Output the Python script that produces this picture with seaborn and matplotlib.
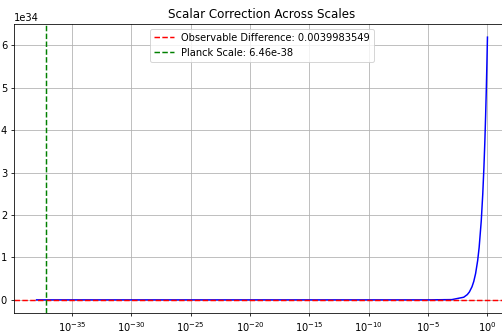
import matplotlib
matplotlib.use("Agg")
import matplotlib.pyplot as plt
from matplotlib.ticker import NullLocator
import seaborn as sns
import pandas as pd

# Scale (x) and scalar correction (y) along the curve
scale = [1e-38, 1e-35, 1e-30, 1e-25, 1e-20, 1e-15, 1e-10, 1e-5, 1e-3,
         1e-2, 0.02, 0.03, 0.05, 0.07, 0.1, 0.15, 0.2, 0.3, 0.4, 0.5,
         0.6, 0.7, 0.8, 0.9, 1.0]
correction = [6.2e-4, 0.62, 6.2e4, 6.2e9, 6.2e14, 6.2e19, 6.2e24, 6.2e29, 6.2e31,
              6.2e32, 1.24e33, 1.86e33, 3.1e33, 4.33e33, 6.19e33, 9.28e33, 1.24e34, 1.86e34, 2.48e34, 3.1e34,
              3.71e34, 4.33e34, 4.95e34, 5.57e34, 6.19e34]

observable_difference = 0.0039983549
planck_scale = 6.46e-38
xticks = [1e-35, 1e-30, 1e-25, 1e-20, 1e-15, 1e-10, 1e-5, 1e0]

df = pd.DataFrame({"scale": scale, "correction": correction})

DPI = 71
fig = plt.figure(figsize=(502 / DPI, 332 / DPI), dpi=DPI)
ax = fig.add_axes([14 / 502, 1 - 313 / 332, 496 / 502, 289 / 332])

sns.lineplot(data=df, x="scale", y="correction", color="blue",
             estimator=None, linewidth=1.5, ax=ax)
ax.set_xscale("log")
ax.axhline(observable_difference, color="red", linestyle="--",
           label=f"Observable Difference: {observable_difference}")
ax.axvline(planck_scale, color="green", linestyle="--",
           label=f"Planck Scale: {planck_scale}")

ax.set_xticks(xticks)
ax.xaxis.set_minor_locator(NullLocator())
ax.set_xlabel("")
ax.set_ylabel("")
ax.set_title("Scalar Correction Across Scales")
ax.grid(True)
ax.legend(loc="upper center")

fig.savefig("out.png", dpi=DPI)
